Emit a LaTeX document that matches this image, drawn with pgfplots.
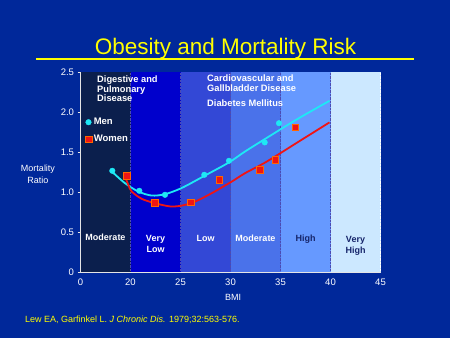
\documentclass[border=0pt]{standalone}
\usepackage{fontspec}
\setmainfont{Liberation Sans}
\usepackage{pgfplots}
\pgfplotsset{compat=1.18}
\definecolor{bg}{HTML}{00289A}
\definecolor{rA}{HTML}{0B1F4D}
\definecolor{rB}{HTML}{0000CC}
\definecolor{rC}{HTML}{3348D6}
\definecolor{rD}{HTML}{4A72EA}
\definecolor{rE}{HTML}{6699FF}
\definecolor{rF}{HTML}{CCE8FF}
\definecolor{mencol}{HTML}{1EE8F5}
\definecolor{womcol}{HTML}{F01414}
\definecolor{navytxt}{HTML}{16256A}
\definecolor{ttl}{HTML}{FFFF00}
\begin{document}
\begin{tikzpicture}[x=1pt,y=1pt]
\fill[bg] (0,0) rectangle (450,338);
\begin{axis}[
  at={(80.5,82.5)}, anchor=south west,
  scale only axis, width=300pt, height=200pt,
  xmin=15, xmax=45, ymin=0, ymax=2.5,
  axis lines*=left,
  axis line style={white!80!gray, line width=0.8pt},
  axis on top,
  xtick={15,20,25,30,35,40,45},
  xticklabels={0,20,25,30,35,40,45},
  ytick={0,0.5,1,1.5,2,2.5},
  yticklabels={0,0.5,1.0,1.5,2.0,2.5},
  tick align=outside,
  major tick length=3pt,
  xtick style={draw=none},
  ytick style={white!80!gray, line width=0.6pt},
  tick label style={white, font=\fontsize{9.5}{10}\selectfont},
  /pgf/number format/assume math mode=true,
  legend style={draw=none, fill=none, text=white,
    font=\bfseries\fontsize{9.5}{11}\selectfont,
    at={(0.005,0.79)}, anchor=north west, row sep=5pt},
  legend cell align=left,
  clip=false,
]
\fill[rA] (axis cs:15,0) rectangle (axis cs:20,2.5);
\fill[rB] (axis cs:20,0) rectangle (axis cs:25,2.5);
\fill[rC] (axis cs:25,0) rectangle (axis cs:30,2.5);
\fill[rD] (axis cs:30,0) rectangle (axis cs:35,2.5);
\fill[rE] (axis cs:35,0) rectangle (axis cs:40,2.5);
\fill[rF] (axis cs:40,0) rectangle (axis cs:45,2.5);
\draw[gray!60!blue, densely dotted] (axis cs:20,0) -- (axis cs:20,2.5);
\draw[gray!60!blue, densely dotted] (axis cs:25,0) -- (axis cs:25,2.5);
\draw[gray!60!blue, densely dotted] (axis cs:30,0) -- (axis cs:30,2.5);
\draw[gray!60!blue, densely dotted] (axis cs:35,0) -- (axis cs:35,2.5);
\draw[gray!60!blue, densely dotted] (axis cs:40,0) -- (axis cs:40,2.5);
\draw[white, densely dotted] (axis cs:45,0) -- (axis cs:45,2.5);
% fitted curves
\addplot[mencol, line width=1.8pt, smooth, no marks, forget plot] coordinates {
 (18.1,1.26) (19.45,1.11) (20.78,1.006) (22.1,0.956) (23.45,0.973)
 (25.12,1.05) (27.45,1.206) (29.85,1.37) (31.45,1.506) (33.8,1.69)
 (36.8,1.92) (39.9,2.14)};
\addplot[womcol, line width=1.8pt, smooth, no marks, forget plot] coordinates {
 (19.38,1.215) (19.78,1.09) (20.12,1.006) (21.12,0.915) (22.45,0.86)
 (23.95,0.82) (25.12,0.83) (26.45,0.88) (28.12,0.985) (30.12,1.13)
 (31.45,1.235) (33.62,1.38) (36.95,1.64) (39.9,1.87)};
% data points
\addplot[only marks, mark=*, mark size=2.8pt, mencol] coordinates {
 (18.18,1.265) (20.88,1.015) (23.45,0.965) (27.38,1.215) (29.85,1.39)
 (33.42,1.62) (34.85,1.86)};
\addlegendentry{Men}
\addplot[only marks, mark=square*, mark size=3.3pt,
  mark options={fill=womcol, draw=orange!80!red, line width=0.6pt}] coordinates {
 (19.62,1.206) (22.45,0.865) (26.02,0.873) (28.88,1.156) (32.95,1.28)
 (34.48,1.40) (36.48,1.81)};
\addlegendentry{Women}
\end{axis}
% region labels
\begin{scope}[every node/.style={font=\bfseries\fontsize{9}{11.5}\selectfont, align=center, inner sep=0pt}]
\node[white] at (105.5,101) {Moderate};
\node[white] at (155.5,94) {Very\\Low};
\node[white] at (205.5,100) {Low};
\node[white] at (255.5,100) {Moderate};
\node[navytxt] at (305.5,99) {High};
\node[navytxt] at (355.5,92) {Very\\High};
\end{scope}
\begin{scope}[every node/.style={font=\bfseries\fontsize{9.3}{9.4}\selectfont, align=left, inner sep=0pt, white, anchor=north west}]
\node at (97,262) {Digestive and\\Pulmonary\\Disease};
\node at (207,263) {Cardiovascular and\\Gallbladder Disease};
\node at (207,238.5) {Diabetes Mellitus};
\end{scope}
% axis titles
\node[white, font=\fontsize{9}{10}\selectfont] at (233,41) {BMI};
\node[white, font=\fontsize{9}{12}\selectfont, align=center] at (38,164) {Mortality\\Ratio};
% title
\node[ttl, font=\fontsize{22.5}{24}\selectfont, anchor=base, inner sep=0pt] at (225.5,283.5) {Obesity and Mortality Risk};
\draw[ttl, line width=2pt] (36,278.5) -- (414,278.5);
% citation
\node[ttl, anchor=base west, inner sep=0pt, font=\fontsize{9}{11}\selectfont] at (25,16) {Lew EA, Garfinkel L. \textit{J Chronic Dis.} 1979;32:563-576.};
\end{tikzpicture}
\end{document}
